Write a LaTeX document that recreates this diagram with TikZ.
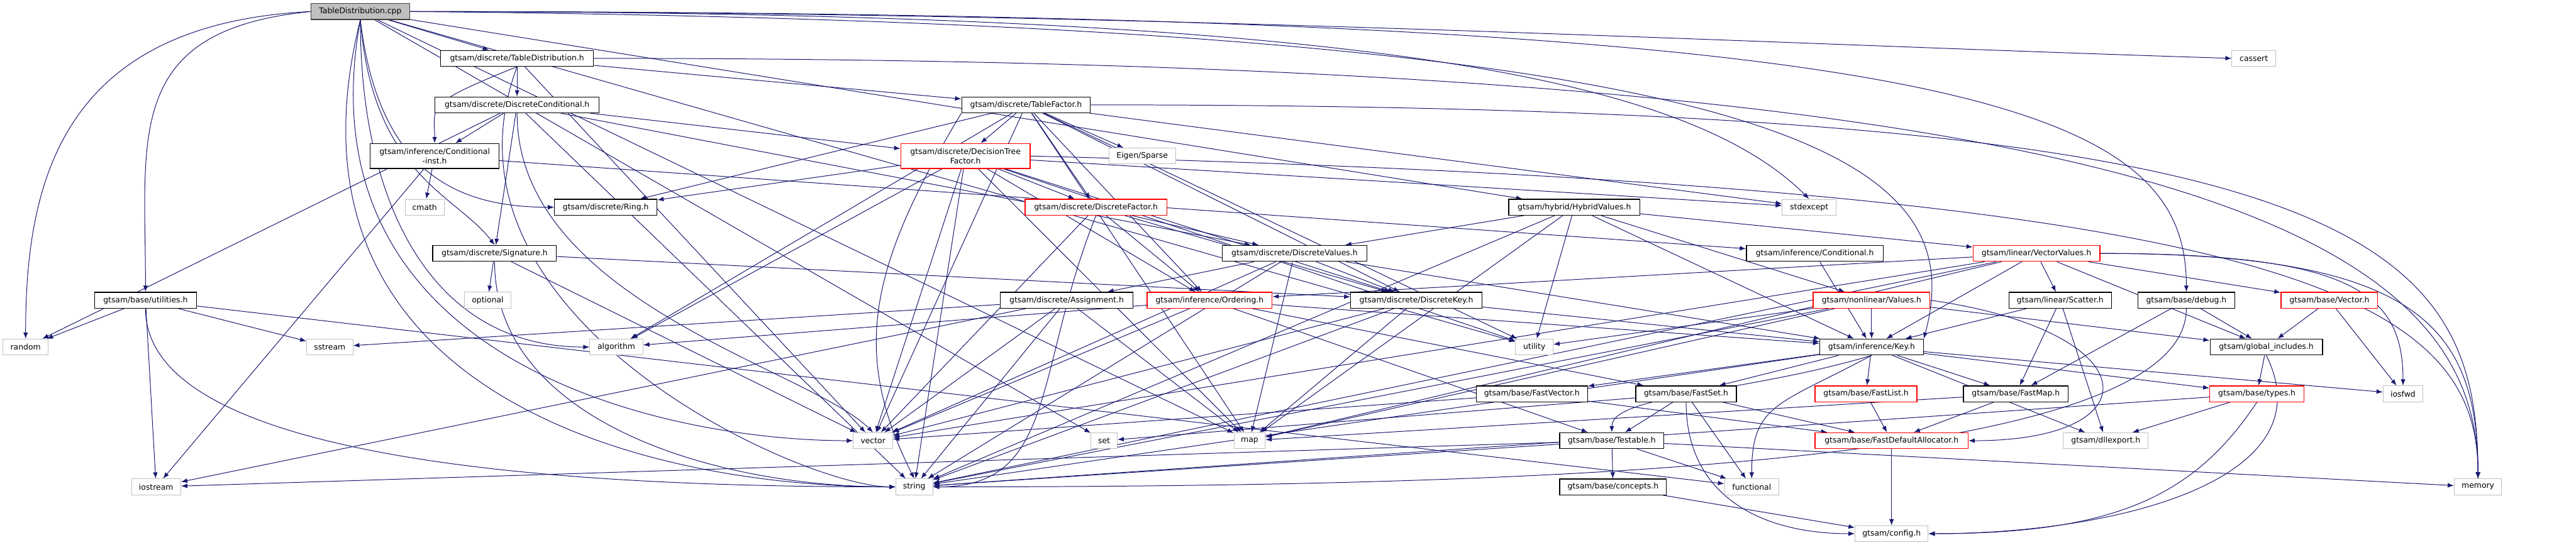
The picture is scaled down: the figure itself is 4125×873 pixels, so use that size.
\documentclass[tikz,border=0pt]{standalone}
\usepackage{fontspec}
\setmainfont{DejaVu Sans}
\usetikzlibrary{arrows.meta,positioning}
\definecolor{edgeblue}{HTML}{191970}
\definecolor{sysgray}{HTML}{BFBFBF}
\definecolor{srcgray}{HTML}{404040}
\pgfdeclarelayer{bg}
\pgfsetlayers{bg,main}

\begin{document}
\begin{tikzpicture}[
  x=1pt, y=-1pt,
  hdr/.style={draw=black, line width=1.3pt, fill=white, align=center, inner xsep=0pt, minimum height=25.5pt, font=\fontsize{12.5}{15}\selectfont},
  sys/.style={hdr, draw=sysgray, line width=1pt},
  cut/.style={hdr, draw=red},
  srcfile/.style={hdr, draw=srcgray, fill=sysgray},
  dep/.style={-{Latex[length=10pt,width=7.5pt]}, line width=1pt, draw=edgeblue}
]
\useasboundingbox (0,0) rectangle (4125,873);

% row 1 - 3
\node[srcfile, minimum width=158pt] (cpp) at (577,18.5) {TableDistribution.cpp};
\node[hdr, minimum width=245pt] (tdh) at (828,93.5) {gtsam/discrete/TableDistribution.h};
\node[sys, minimum width=70pt] (cassert) at (3609,93.5) {cassert};
\node[hdr, minimum width=263pt] (dcond) at (828,168) {gtsam/discrete/DiscreteConditional.h};
\node[hdr, minimum width=206pt] (tfac) at (1643,168) {gtsam/discrete/TableFactor.h};

% row 4 - 5
\node[hdr, minimum width=206pt, minimum height=40pt] (cinst) at (696,250) {gtsam/inference/Conditional\\-inst.h};
\node[cut, minimum width=207pt, minimum height=40pt] (dtf) at (1546,250) {gtsam/discrete/DecisionTree\\Factor.h};
\node[sys, minimum width=107pt] (eigen) at (1829,250) {Eigen/Sparse};
\node[sys, minimum width=62pt] (cmath) at (680,332) {cmath};
\node[hdr, minimum width=164pt] (ring) at (970,332) {gtsam/discrete/Ring.h};
\node[cut, minimum width=227pt] (dfac) at (1755,332) {gtsam/discrete/DiscreteFactor.h};
\node[hdr, minimum width=210pt] (hyb) at (2521,332) {gtsam/hybrid/HybridValues.h};
\node[sys, minimum width=86pt] (stdexc) at (2897,332) {stdexcept};

% row 6 - 7
\node[hdr, minimum width=198pt] (sig) at (792,406) {gtsam/discrete/Signature.h};
\node[hdr, minimum width=232pt] (dval) at (2073,406) {gtsam/discrete/DiscreteValues.h};
\node[hdr, minimum width=219pt] (cond) at (2906,406) {gtsam/inference/Conditional.h};
\node[cut, minimum width=203pt] (vval) at (3261,406) {gtsam/linear/VectorValues.h};
\node[hdr, minimum width=163pt] (util) at (233,481) {gtsam/base/utilities.h};
\node[sys, minimum width=74pt] (optional) at (781,481) {optional};
\node[hdr, minimum width=213pt] (assign) at (1708,481) {gtsam/discrete/Assignment.h};
\node[cut, minimum width=200pt] (order) at (1937,481) {gtsam/inference/Ordering.h};
\node[hdr, minimum width=210pt] (dkey) at (2268,481) {gtsam/discrete/DiscreteKey.h};
\node[cut, minimum width=187pt] (values) at (2997,481) {gtsam/nonlinear/Values.h};
\node[hdr, minimum width=164pt] (scatter) at (3299,481) {gtsam/linear/Scatter.h};
\node[hdr, minimum width=155pt] (debug) at (3501,481) {gtsam/base/debug.h};
\node[cut, minimum width=155pt] (vec) at (3730,481) {gtsam/base/Vector.h};

% row 8 - 9
\node[sys, minimum width=72pt] (random) at (41,556) {random};
\node[sys, minimum width=74pt] (sstream) at (528,556) {sstream};
\node[sys, minimum width=85pt] (algo) at (987,556) {algorithm};
\node[sys, minimum width=60pt] (utility) at (2457,556) {utility};
\node[hdr, minimum width=166pt] (key) at (2997,556) {gtsam/inference/Key.h};
\node[hdr, minimum width=180pt] (glob) at (3629,556) {gtsam/global\_includes.h};
\node[hdr, minimum width=178pt] (fvec) at (2453,631) {gtsam/base/FastVector.h};
\node[hdr, minimum width=161pt] (fset) at (2700,631) {gtsam/base/FastSet.h};
\node[cut, minimum width=163pt] (flist) at (2988,631) {gtsam/base/FastList.h};
\node[hdr, minimum width=168pt] (fmap) at (3228,631) {gtsam/base/FastMap.h};
\node[cut, minimum width=151pt] (types) at (3614,631) {gtsam/base/types.h};
\node[sys, minimum width=64pt] (iosfwd) at (3848,631) {iosfwd};

% row 10 - 12
\node[sys, minimum width=63pt] (vector) at (1398,706) {vector};
\node[sys, minimum width=42pt] (set) at (1768,706) {set};
\node[sys, minimum width=50pt] (map) at (2001,706) {map};
\node[hdr, minimum width=167pt] (testable) at (2581,706) {gtsam/base/Testable.h};
\node[cut, minimum width=245pt] (falloc) at (3029,706) {gtsam/base/FastDefaultAllocator.h};
\node[sys, minimum width=136pt] (dllexp) at (3372,706) {gtsam/dllexport.h};
\node[sys, minimum width=79pt] (iostream) at (250,780) {iostream};
\node[sys, minimum width=59pt] (string) at (1464,780) {string};
\node[hdr, minimum width=171pt] (concepts) at (2583,780) {gtsam/base/concepts.h};
\node[sys, minimum width=87pt] (functional) at (2805,780) {functional};
\node[sys, minimum width=76pt] (memory) at (3968,780) {memory};
\node[sys, minimum width=117pt] (config) at (3029,855) {gtsam/config.h};

\begin{pgfonlayer}{bg}
% TableDistribution.cpp
\draw[dep] (cpp) -- (tdh);
\draw[dep] (cpp.east) .. controls +(1200,0) and +(-800,-25) .. (cassert.west);
\draw[dep] (cpp.west) .. controls +(-400,20) and +(0,-250) .. (random.north);
\draw[dep] (cpp.west) .. controls +(-300,30) and +(0,-250) .. (util.north);
\draw[dep] (cpp.south) .. controls +(0,300) and +(-250,0) .. (algo.west);
\draw[dep] (cpp.south) .. controls +(30,250) and +(-150,0) .. (ring.west);
\draw[dep] (cpp.south) .. controls +(20,250) and +(-60,-80) .. (sig.north);
\draw[dep] (cpp) -- (hyb);
\draw[dep] (cpp.east) .. controls +(1500,0) and +(-200,-200) .. (stdexc.north);
\draw[dep] (cpp.south) .. controls +(-150,600) and +(-400,0) .. (string.west);
\draw[dep] (cpp.south) .. controls +(-100,550) and +(-300,0) .. (vector.west);
\draw[dep] (cpp) -- (set);
\draw[dep] (cpp) -- (utility);
\draw[dep] (cpp.east) .. controls +(2500,0) and +(0,-300) .. (debug.north);
\draw[dep] (cpp) -- (map);
\draw[dep] (cpp.east) .. controls +(2200,20) and +(80,-300) .. (key.north east);
% TableDistribution.h
\draw[dep] (tdh) -- (dcond);
\draw[dep] (tdh.south) .. controls +(-150,60) and +(0,-60) .. (cinst.north);
\draw[dep] (tdh) -- (tfac);
\draw[dep] (tdh.south) .. controls +(-150,400) and +(-150,0) .. (string.west);
\draw[dep] (tdh) -- (vector);
\draw[dep] (tdh.east) .. controls +(2500,0) and +(0,-400) .. (memory.north);
% DiscreteConditional.h
\draw[dep] (dcond) -- (cinst);
\draw[dep] (dcond) -- (dtf);
\draw[dep] (dcond) -- (sig);
\draw[dep] (dcond) -- (random);
\draw[dep] (dcond) -- (string);
\draw[dep] (dcond.south) .. controls +(0,300) and +(-100,-100) .. (vector.north);
\draw[dep] (dcond) -- (dval);
% TableFactor.h
\draw[dep] (tfac) -- (dtf);
\draw[dep] (tfac) -- (eigen);
\draw[dep] (tfac) -- (dfac);
\draw[dep] (tfac) -- (ring);
\draw[dep] (tfac) -- (algo);
\draw[dep] (tfac) -- (vector);
\draw[dep] (tfac.south west) .. controls +(-150,250) and +(-100,-200) .. (string.north);
\draw[dep] (tfac) -- (map);
\draw[dep] (tfac) -- (order);
\draw[dep] (tfac) -- (dkey);
\draw[dep] (tfac) -- (stdexc);
\draw[dep] (tfac) -- (utility);
\draw[dep] (tfac.east) .. controls +(2000,0) and +(0,-400) .. (memory.north);
% Conditional-inst.h
\draw[dep] (cinst) -- (cond);
\draw[dep] (cinst) -- (cmath);
\draw[dep] (cinst) -- (iostream);
% DecisionTreeFactor.h
\draw[dep] (dtf) -- (ring);
\draw[dep] (dtf) -- (dfac);
\draw[dep] (dtf) -- (order);
\draw[dep] (dtf) -- (dkey);
\draw[dep] (dtf) -- (vector);
\draw[dep] (dtf) -- (string);
\draw[dep] (dtf) -- (map);
\draw[dep] (dtf) -- (algo);
\draw[dep] (dtf) -- (stdexc);
\draw[dep] (dtf) -- (utility);
\draw[dep] (dtf.east) .. controls +(2000,50) and +(0,-300) .. (memory.north);
% DiscreteFactor.h
\draw[dep] (dfac) -- (dval);
\draw[dep] (dfac) -- (order);
\draw[dep] (dfac) -- (dkey);
\draw[dep] (dfac.south) .. controls +(-100,250) and +(200,0) .. (string.east);
\draw[dep] (dfac) -- (vector);
% HybridValues.h
\draw[dep] (hyb) -- (dval);
\draw[dep] (hyb) -- (vval);
\draw[dep] (hyb) -- (values);
\draw[dep] (hyb) -- (key);
\draw[dep] (hyb) -- (map);
\draw[dep] (hyb) -- (string);
\draw[dep] (hyb) -- (utility);
% Signature.h
\draw[dep] (sig) -- (optional);
\draw[dep] (sig) -- (dkey);
\draw[dep] (sig.south) .. controls +(0,250) and +(-300,0) .. (string.west);
\draw[dep] (sig) -- (vector);
% DiscreteValues.h
\draw[dep] (dval) -- (assign);
\draw[dep] (dval) -- (dkey);
\draw[dep] (dval) -- (key);
\draw[dep] (dval) -- (map);
\draw[dep] (dval) -- (string);
\draw[dep] (dval) -- (vector);
% Conditional.h, VectorValues.h
\draw[dep] (cond) -- (key);
\draw[dep] (vval) -- (order);
\draw[dep] (vval) -- (scatter);
\draw[dep] (vval) -- (vec);
\draw[dep] (vval) -- (key);
\draw[dep] (vval) -- (map);
\draw[dep] (vval) -- (string);
\draw[dep] (vval) -- (vector);
\draw[dep] (vval.east) .. controls +(500,0) and +(0,-250) .. (memory.north);
\draw[dep] (vval.east) .. controls +(400,0) and +(0,-150) .. (iosfwd.north);
\draw[dep] (vval) -- (glob);
% utilities.h, Assignment.h, Ordering.h
\draw[dep] (util) -- (random);
\draw[dep] (util) -- (sstream);
\draw[dep] (util) -- (iostream);
\draw[dep] (util.south) .. controls +(0,250) and +(-500,0) .. (string.west);
\draw[dep] (util) -- (functional);
\draw[dep] (assign) -- (sstream);
\draw[dep] (assign) -- (iostream);
\draw[dep] (assign) -- (vector);
\draw[dep] (assign) -- (map);
\draw[dep] (assign) -- (string);
\draw[dep] (order) -- (algo);
\draw[dep] (order) -- (vector);
\draw[dep] (order) -- (key);
\draw[dep] (order) -- (fset);
\draw[dep] (order) -- (testable);
% DiscreteKey.h, Values.h, Scatter.h, debug.h, Vector.h
\draw[dep] (dkey) -- (key);
\draw[dep] (dkey) -- (map);
\draw[dep] (dkey) -- (vector);
\draw[dep] (dkey) -- (string);
\draw[dep] (values) -- (key);
\draw[dep] (values) -- (utility);
\draw[dep] (values) -- (map);
\draw[dep] (values) -- (string);
\draw[dep] (values) -- (glob);
\draw[dep] (values.east) .. controls +(350,50) and +(300,0) .. (falloc.east);
\draw[dep] (scatter) -- (key);
\draw[dep] (scatter) -- (fmap);
\draw[dep] (scatter) -- (dllexp);
\draw[dep] (debug) -- (fmap);
\draw[dep] (debug) -- (glob);
\draw[dep] (debug.south) .. controls +(0,250) and +(1000,0) .. (string.east);
\draw[dep] (vec) -- (glob);
\draw[dep] (vec) -- (iosfwd);
% Key.h, global_includes.h
\draw[dep] (key) -- (fvec);
\draw[dep] (key) -- (fset);
\draw[dep] (key) -- (flist);
\draw[dep] (key) -- (fmap);
\draw[dep] (key) -- (types);
\draw[dep] (key) -- (iosfwd);
\draw[dep] (key.south) .. controls +(-200,60) and +(0,-60) .. (testable.north);
\draw[dep] (key) -- (dllexp);
\draw[dep] (key.south) .. controls +(-150,80) and +(0,-120) .. (functional.north);
\draw[dep] (key) -- (string);
\draw[dep] (glob) -- (types);
\draw[dep] (glob.south) .. controls +(100,200) and +(300,0) .. (config.east);
% base containers
\draw[dep] (fvec) -- (falloc);
\draw[dep] (fvec) -- (vector);
\draw[dep] (fset) -- (falloc);
\draw[dep] (fset) -- (set);
\draw[dep] (fset) -- (testable);
\draw[dep] (fset) -- (functional);
\draw[dep] (fset.south) .. controls +(0,150) and +(-150,0) .. (config.west);
\draw[dep] (flist) -- (falloc);
\draw[dep] (fmap) -- (falloc);
\draw[dep] (fmap) -- (map);
\draw[dep] (types) -- (dllexp);
\draw[dep] (types.south) .. controls +(-100,150) and +(300,0) .. (config.east);
\draw[dep] (types) -- (string);
% Testable.h and below
\draw[dep] (testable) -- (concepts);
\draw[dep] (testable) -- (functional);
\draw[dep] (testable) -- (iostream);
\draw[dep] (testable) -- (memory);
\draw[dep] (testable) -- (string);
\draw[dep] (falloc) -- (config);
\draw[dep] (concepts) -- (config);
\end{pgfonlayer}
\end{tikzpicture}
\end{document}
